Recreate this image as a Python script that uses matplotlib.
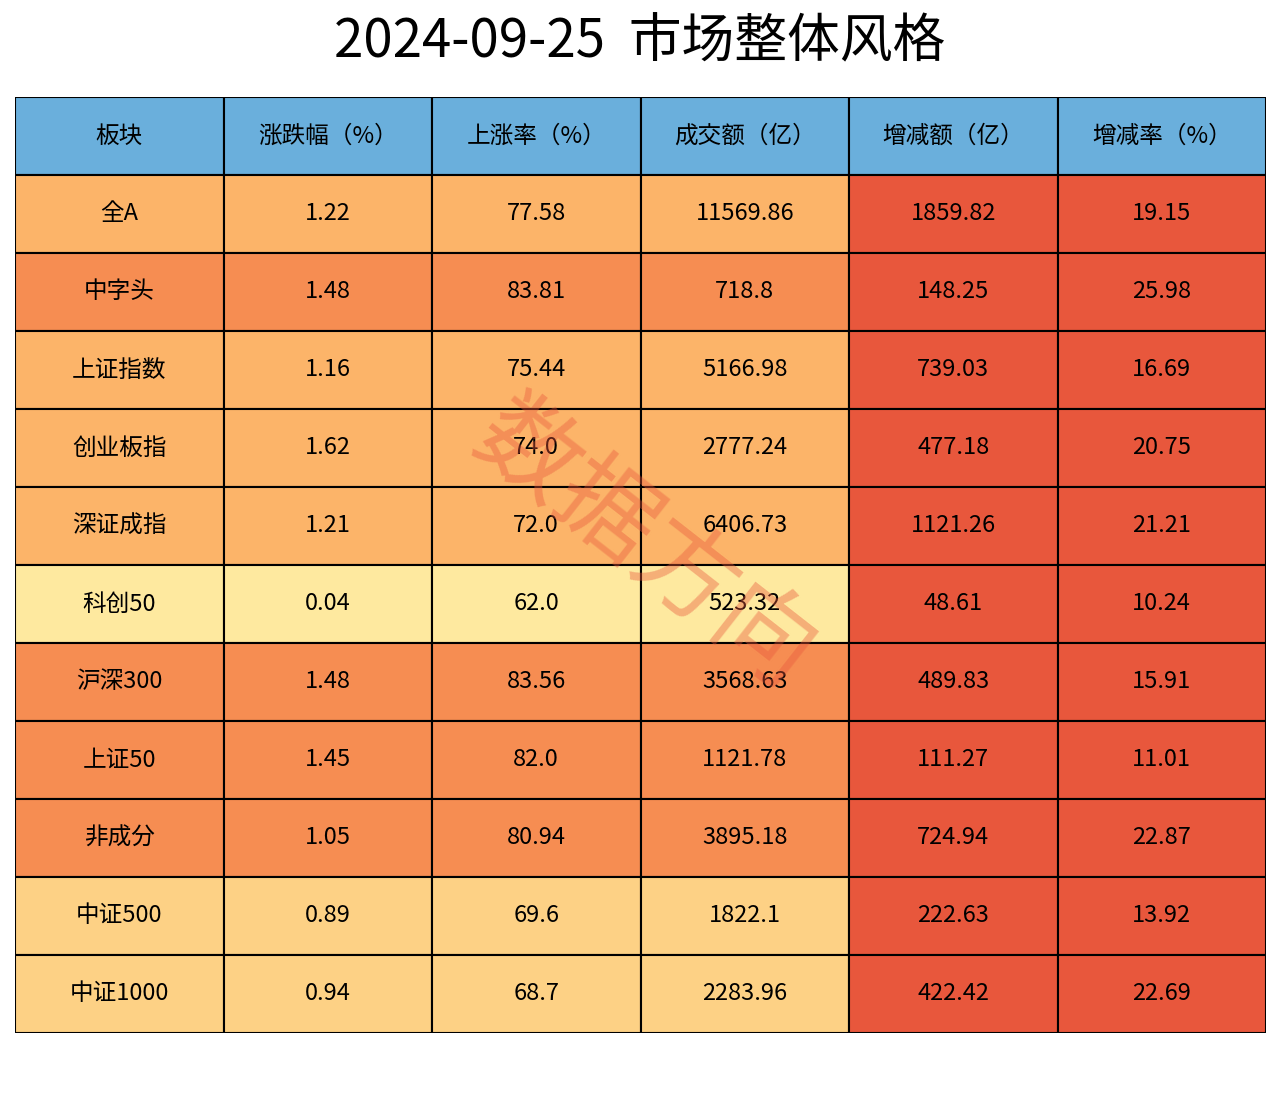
import matplotlib.pyplot as plt
from matplotlib import font_manager
from matplotlib.patches import Rectangle

# pick up an installed sans CJK font file (family name lookup can fail)
cjk = [f for f in font_manager.findSystemFonts() if "cjk" in f.lower()]
sans = [f for f in cjk if "sans" in f.lower() and "mono" not in f.lower()]
pref = [f for f in sans if "regular" in f.lower()] or sans or cjk
if pref:
    font_manager.fontManager.addfont(pref[0])
    fam = font_manager.FontProperties(fname=pref[0]).get_name()
    plt.rcParams["font.family"] = [fam, "DejaVu Sans"]

TITLE = "2024-09-25  市场整体风格"
HEADERS = ["板块", "涨跌幅（%）", "上涨率（%）", "成交额（亿）", "增减额（亿）", "增减率（%）"]
SECTORS = ["全A", "中字头", "上证指数", "创业板指", "深证成指", "科创50",
           "沪深300", "上证50", "非成分", "中证500", "中证1000"]
CHANGE_PCT = ["1.22", "1.48", "1.16", "1.62", "1.21", "0.04", "1.48", "1.45", "1.05", "0.89", "0.94"]
UP_RATE = ["77.58", "83.81", "75.44", "74.0", "72.0", "62.0", "83.56", "82.0", "80.94", "69.6", "68.7"]
TURNOVER = ["11569.86", "718.8", "5166.98", "2777.24", "6406.73", "523.32",
            "3568.63", "1121.78", "3895.18", "1822.1", "2283.96"]
DELTA = ["1859.82", "148.25", "739.03", "477.18", "1121.26", "48.61",
         "489.83", "111.27", "724.94", "222.63", "422.42"]
DELTA_PCT = ["19.15", "25.98", "16.69", "20.75", "21.21", "10.24",
             "15.91", "11.01", "22.87", "13.92", "22.69"]

HEADER_COLOR = "#6aafdc"
RED = "#e8573c"


def row_color(up):
    v = float(up)
    if v >= 80:
        return "#f68d52"
    if v >= 71:
        return "#fcb469"
    if v >= 65:
        return "#fdd185"
    return "#fee99f"


fig = plt.figure(figsize=(12.8, 11.04), dpi=100)
fig.text(0.5, 0.962, TITLE, ha="center", va="center", fontsize=38)
ax = fig.add_axes([15 / 1280, 1 - 1033 / 1104, 1251 / 1280, 936 / 1104])
ax.set_xlim(0, 6)
ax.set_ylim(12, 0)
ax.axis("off")

cols = [SECTORS, CHANGE_PCT, UP_RATE, TURNOVER, DELTA, DELTA_PCT]
for j, h in enumerate(HEADERS):
    ax.add_patch(Rectangle((j, 0), 1, 1, facecolor=HEADER_COLOR, edgecolor="black", lw=1.5))
    ax.text(j + 0.5, 0.5, h, ha="center", va="center", fontsize=17)
for i in range(len(SECTORS)):
    base = row_color(UP_RATE[i])
    for j, col in enumerate(cols):
        fc = RED if j >= 4 else base
        ax.add_patch(Rectangle((j, i + 1), 1, 1, facecolor=fc, edgecolor="black", lw=1.5))
        ax.text(j + 0.5, i + 1.5, col[i], ha="center", va="center", fontsize=17)

# watermark
fig.text(0.503, 0.505, "数据方向", ha="center", va="center", fontsize=72,
         color="#e8573c", alpha=0.4, rotation=-38)

fig.savefig("out.png", dpi=100)
